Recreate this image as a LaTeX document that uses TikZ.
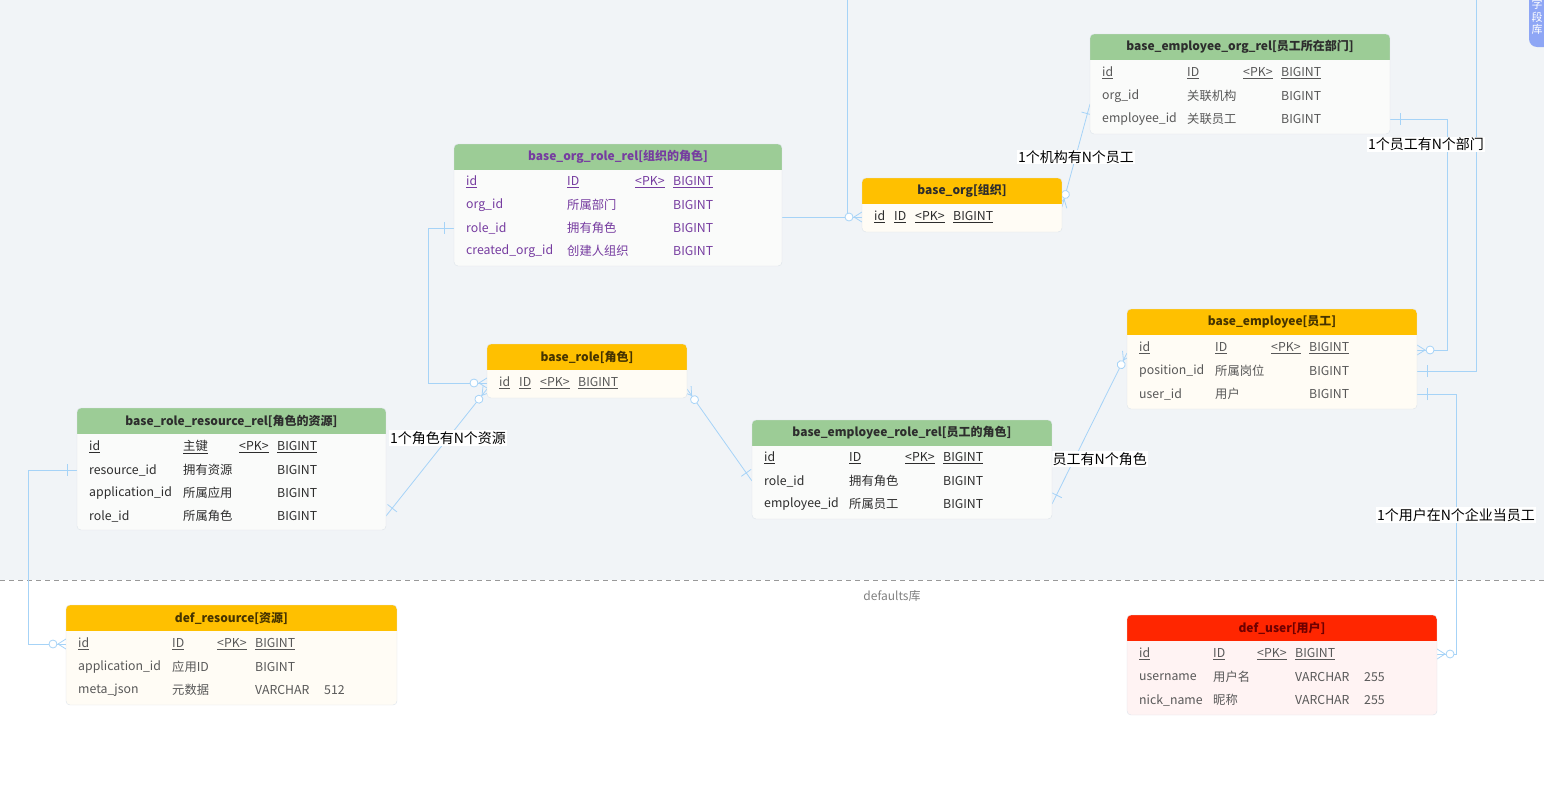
\documentclass[tikz,border=0pt]{standalone}
\usepackage{fontspec}
\setmainfont{Noto Sans CJK SC}
\usetikzlibrary{calc,decorations.markings}
\definecolor{bgGray}{RGB}{241,244,247}
\definecolor{headGreen}{RGB}{156,204,150}
\definecolor{headOrange}{RGB}{255,192,0}
\definecolor{headRed}{RGB}{255,38,0}
\definecolor{bodyGreen}{RGB}{250,251,250}
\definecolor{bodyOrange}{RGB}{255,252,245}
\definecolor{bodyRed}{RGB}{255,243,243}
\definecolor{tblEdge}{RGB}{220,227,234}
\definecolor{fieldGray}{RGB}{88,88,88}
\definecolor{titleDark}{RGB}{45,45,45}
\definecolor{titleBrown}{RGB}{70,52,0}
\definecolor{titleRed}{RGB}{110,0,0}
\definecolor{relPurple}{RGB}{118,60,160}
\definecolor{linkBlue}{RGB}{166,211,247}
\definecolor{tabBlue}{RGB}{142,166,245}
\pgfdeclarelayer{backdrop}
\pgfdeclarelayer{links}
\pgfsetlayers{backdrop,links,main}
\tikzset{
    tblbox/.style={rectangle, inner sep=0pt, outer sep=0pt, rounded corners=4pt},
    tbltitle/.style={inner sep=0pt, font=\bfseries\fontsize{12}{14}\selectfont},
    cell/.style={anchor=west, inner sep=0pt, text=fieldGray, font=\fontsize{12.3}{14}\selectfont},
    link/.style={draw=linkBlue, line width=0.8pt},
    one start/.style={postaction={decorate, decoration={markings,
        mark=at position 10pt with {\draw[linkBlue, line width=0.8pt] (0,-6pt) -- (0,6pt);}}}},
    many end/.style={postaction={decorate, decoration={markings,
        mark=at position 0.9999 with {\draw[linkBlue, line width=0.8pt] (-8pt,0) -- (0,5pt) (-8pt,0) -- (0,-5pt);
            \draw[linkBlue, line width=0.8pt, fill=white] (-13pt,0) circle[radius=4pt];}}}},
    rel label/.style={fill=white, inner sep=1pt, font=\fontsize{14}{16}\selectfont, text=black}
}
% #1 name, #2 x, #3 y, #4 width, #5 height, #6 head, #7 body, #8 title, #9 title colour
\newcommand\ertable[9]{%
    \node[tblbox, fill=#7, minimum width=#4pt, minimum height=#5pt, anchor=north west] (#1) at (#2,#3) {};
    \begin{scope}
        \clip[rounded corners=4pt] (#1.north west) rectangle (#1.south east);
        \fill[#6] (#1.north west) rectangle ($(#1.north east)+(0,26)$);
    \end{scope}
    \draw[tblEdge, rounded corners=4pt] (#1.north west) rectangle (#1.south east);
    \node[tbltitle, text=#9] (#1-title) at ($(#1.north)+(0,13)$) {#8};
}

\begin{document}
\begin{tikzpicture}[x=1pt, y=-1pt]
    \useasboundingbox (0,0) rectangle (1544,785);

    % --- BACKDROP ---
    \begin{pgfonlayer}{backdrop}
        \fill[bgGray] (0,0) rectangle (1544,580);
        \draw[gray!80, line width=0.8pt, dash pattern=on 5pt off 4pt] (0,580) -- (1544,580);
    \end{pgfonlayer}
    \node[text=gray, font=\fontsize{12}{14}\selectfont] (dbname) at (892,596) {defaults库};

    % --- base_employee_org_rel ---
    \ertable{eor}{1090}{34}{300}{100}{headGreen}{bodyGreen}{base\_employee\_org\_rel[员工所在部门]}{titleDark}
    \foreach \x/\t [count=\i] in {1102/id, 1187/ID, 1243/<PK>, 1281/BIGINT}
        \node[cell] (eor-pk\i) at (\x,73) {\underline{\t}};
    \foreach \y/\f/\c/\t [count=\i] in {96/org\_id/关联机构/BIGINT, 119/employee\_id/关联员工/BIGINT} {
        \node[cell] (eor-f\i) at (1102,\y) {\f};
        \node[cell] (eor-c\i) at (1187,\y) {\c};
        \node[cell] (eor-t\i) at (1281,\y) {\t};
    }

    % --- base_org_role_rel ---
    \ertable{orr}{454}{144}{328}{122}{headGreen}{bodyGreen}{base\_org\_role\_rel[组织的角色]}{relPurple}
    \foreach \x/\t [count=\i] in {466/id, 567/ID, 635/<PK>, 673/BIGINT}
        \node[cell, text=relPurple] (orr-pk\i) at (\x,182) {\underline{\t}};
    \foreach \y/\f/\c/\t [count=\i] in {205/org\_id/所属部门/BIGINT, 228/role\_id/拥有角色/BIGINT, 251/created\_org\_id/创建人组织/BIGINT} {
        \node[cell, text=relPurple] (orr-f\i) at (466,\y) {\f};
        \node[cell, text=relPurple] (orr-c\i) at (567,\y) {\c};
        \node[cell, text=relPurple] (orr-t\i) at (673,\y) {\t};
    }

    % --- base_org ---
    \ertable{org}{862}{178}{200}{54}{headOrange}{bodyOrange}{base\_org[组织]}{titleDark}
    \foreach \x/\t [count=\i] in {874/id, 894/ID, 915/<PK>, 953/BIGINT}
        \node[cell, text=titleDark] (org-pk\i) at (\x,217) {\underline{\t}};

    % --- base_role ---
    \ertable{role}{487}{344}{200}{54}{headOrange}{bodyOrange}{base\_role[角色]}{titleBrown}
    \foreach \x/\t [count=\i] in {499/id, 519/ID, 540/<PK>, 578/BIGINT}
        \node[cell] (role-pk\i) at (\x,383) {\underline{\t}};

    % --- base_role_resource_rel ---
    \ertable{rrr}{77}{408}{309}{122}{headGreen}{bodyGreen}{base\_role\_resource\_rel[角色的资源]}{titleDark}
    \foreach \x/\t [count=\i] in {89/id, 183/主键, 239/<PK>, 277/BIGINT}
        \node[cell, text=titleDark] (rrr-pk\i) at (\x,447) {\underline{\t}};
    \foreach \y/\f/\c/\t [count=\i] in {470/resource\_id/拥有资源/BIGINT, 493/application\_id/所属应用/BIGINT, 516/role\_id/所属角色/BIGINT} {
        \node[cell, text=titleDark] (rrr-f\i) at (89,\y) {\f};
        \node[cell, text=titleDark] (rrr-c\i) at (183,\y) {\c};
        \node[cell, text=titleDark] (rrr-t\i) at (277,\y) {\t};
    }

    % --- base_employee_role_rel ---
    \ertable{erl}{752}{420}{300}{99}{headGreen}{bodyGreen}{base\_employee\_role\_rel[员工的角色]}{titleDark}
    \foreach \x/\t [count=\i] in {764/id, 849/ID, 905/<PK>, 943/BIGINT}
        \node[cell, text=titleDark] (erl-pk\i) at (\x,458) {\underline{\t}};
    \foreach \y/\f/\c/\t [count=\i] in {481/role\_id/拥有角色/BIGINT, 504/employee\_id/所属员工/BIGINT} {
        \node[cell, text=titleDark] (erl-f\i) at (764,\y) {\f};
        \node[cell, text=titleDark] (erl-c\i) at (849,\y) {\c};
        \node[cell, text=titleDark] (erl-t\i) at (943,\y) {\t};
    }

    % --- base_employee ---
    \ertable{emp}{1127}{309}{290}{100}{headOrange}{bodyOrange}{base\_employee[员工]}{titleBrown}
    \foreach \x/\t [count=\i] in {1139/id, 1215/ID, 1271/<PK>, 1309/BIGINT}
        \node[cell] (emp-pk\i) at (\x,348) {\underline{\t}};
    \foreach \y/\f/\c/\t [count=\i] in {371/position\_id/所属岗位/BIGINT, 394/user\_id/用户/BIGINT} {
        \node[cell] (emp-f\i) at (1139,\y) {\f};
        \node[cell] (emp-c\i) at (1215,\y) {\c};
        \node[cell] (emp-t\i) at (1309,\y) {\t};
    }

    % --- def_resource ---
    \ertable{res}{66}{605}{331}{100}{headOrange}{bodyOrange}{def\_resource[资源]}{titleBrown}
    \foreach \x/\t [count=\i] in {78/id, 172/ID, 217/<PK>, 255/BIGINT}
        \node[cell] (res-pk\i) at (\x,644) {\underline{\t}};
    \foreach \y/\f/\c/\t [count=\i] in {667/application\_id/应用ID/BIGINT, 690/meta\_json/元数据/VARCHAR} {
        \node[cell] (res-f\i) at (78,\y) {\f};
        \node[cell] (res-c\i) at (172,\y) {\c};
        \node[cell] (res-t\i) at (255,\y) {\t};
    }
    \node[cell] (res-n2) at (324,690) {512};

    % --- def_user ---
    \ertable{usr}{1127}{615}{310}{100}{headRed}{bodyRed}{def\_user[用户]}{titleRed}
    \foreach \x/\t [count=\i] in {1139/id, 1213/ID, 1257/<PK>, 1295/BIGINT}
        \node[cell] (usr-pk\i) at (\x,654) {\underline{\t}};
    \foreach \y/\f/\c/\t [count=\i] in {677/username/用户名/VARCHAR, 700/nick\_name/昵称/VARCHAR} {
        \node[cell] (usr-f\i) at (1139,\y) {\f};
        \node[cell] (usr-c\i) at (1213,\y) {\c};
        \node[cell] (usr-t\i) at (1295,\y) {\t};
        \node[cell] (usr-n\i) at (1364,\y) {255};
    }

    % --- TAB (top right) ---
    \fill[tabBlue, rounded corners=8pt] (1529,-20) rectangle (1580,47);
    \node[text=white, font=\fontsize{11}{12.5}\selectfont, align=center, inner sep=0pt] (tab) at (1537,17) {字\\段\\库};

    % --- CONNECTORS ---
    \begin{pgfonlayer}{links}
        \coordinate (upA) at (847,0);
        \coordinate (upB) at (1476,0);
        \draw[link] (upA) -- (upA |- org-pk1);
        \draw[link, many end] (orr.east |- org-pk1) -- (org.west |- org-pk1);
        \draw[link, one start, many end] (orr.west |- orr-f2) -- ++(-26,0) |- (role.west |- role-pk1);
        \draw[link, one start, many end] (rrr.east |- rrr-f3) -- ($(role.south west)+(0,-9)$);
        \draw[link, one start, many end] (rrr.west |- rrr-f1) -- ++(-49,0) |- (res.west |- res-pk1);
        \draw[link, one start, many end] (erl.west |- erl-f1) -- ($(role.south east)+(0,-9)$);
        \draw[link, one start, many end] (erl.east |- erl-f2) -- ($(emp.west |- emp-pk1)+(0,5)$);
        \draw[link, one start, many end] ($(eor.west |- eor-f1)+(0,8)$) -- ($(org.east |- org-pk1)+(0,-10)$);
        \draw[link, one start, many end] (eor.east |- eor-f2) -- ++(57,0) |- ($(emp.east |- emp-pk1)+(0,2)$);
        \draw[link, one start] (emp.east |- emp-f1) -| (upB);
        \draw[link, one start, many end] (emp.east |- emp-f2) -- ++(39,0) |- (usr.east |- usr-pk1);

        % labels
        \node[rel label] (lbl-org) at (1076,157) {1个机构有N个员工};
        \node[rel label] (lbl-dept) at (1426,144) {1个员工有N个部门};
        \node[rel label] (lbl-res) at (448,438) {1个角色有N个资源};
        \node[rel label, anchor=east] (lbl-role) at (1148,459) {1个员工有N个角色};
        \node[rel label] (lbl-user) at (1456,515) {1个用户在N个企业当员工};
    \end{pgfonlayer}
\end{tikzpicture}
\end{document}
